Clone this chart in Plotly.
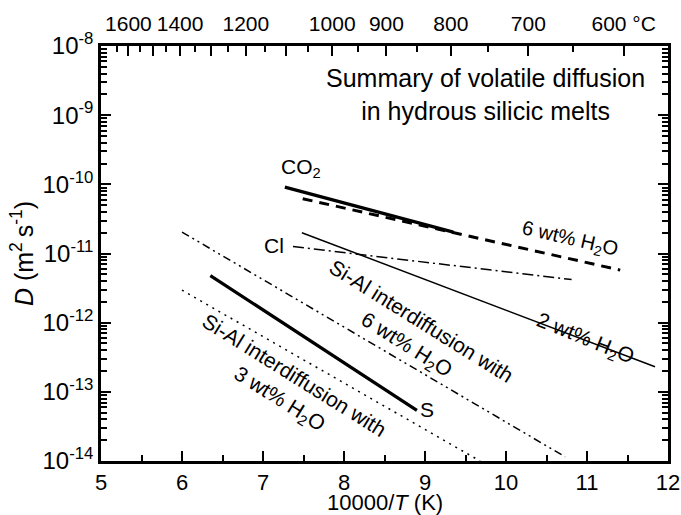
import plotly.graph_objects as go

# ---- data (x = 10000/T in K^-1, D in m^2/s) ----
co2_x = [7.27, 9.35]
co2_D = [9.1e-11, 2.04e-11]
co2_h2o6_x = [7.49, 11.41]
co2_h2o6_D = [6.2e-11, 5.75e-12]
cl_x = [7.37, 10.81]
cl_D = [1.26e-11, 4.2e-12]
h2o2_x = [7.48, 11.84]
h2o2_D = [2.0e-11, 2.3e-13]
sial6_x = [6.0, 10.73]
sial6_D = [2.04e-11, 1.15e-14]
s_x = [6.35, 8.90]
s_D = [4.8e-12, 5.4e-14]
sial3_x = [6.0, 9.68]
sial3_D = [2.95e-12, 1.0e-14]

x_ticks = [5, 6, 7, 8, 9, 10, 11, 12]
x_minor = [5.5, 6.5, 7.5, 8.5, 9.5, 10.5, 11.5]
y_exponents = [-14, -13, -12, -11, -10, -9, -8]
top_temps_C = [1600, 1500, 1400, 1300, 1200, 1100, 1000, 900, 800, 700, 600]
top_labels = ["1600", "", "1400", "", "1200", "", "1000", "900", "800", "700", "600 °C"]
top_minor_C = [1650, 1550, 1450, 1350, 1250, 1150, 1050, 950, 850, 750, 650, 550]

FONT = "Liberation Sans, Arial, Helvetica, sans-serif"

def inv(tc):
    return 10000.0 / (tc + 273.15)

fig = go.Figure()

def add_line(x, y, width, dash, xaxis="x"):
    fig.add_trace(go.Scatter(x=x, y=y, mode="lines", xaxis=xaxis,
                             line=dict(color="black", width=width, dash=dash),
                             showlegend=False, hoverinfo="skip"))

add_line(co2_h2o6_x, co2_h2o6_D, 3, "10px,7px")
add_line(co2_x, co2_D, 3.2, "solid", xaxis="x2")
add_line(cl_x, cl_D, 1.5, "11px,4px,2px,4px")
add_line(h2o2_x, h2o2_D, 1.5, "solid")
add_line(sial6_x, sial6_D, 1.5, "8px,4px,2px,4px,2px,4px")
add_line(s_x, s_D, 3.2, "solid")
add_line(sial3_x, sial3_D, 1.5, "2px,5px")

y_tickvals = [10.0 ** e for e in y_exponents]
y_ticktext = ["10<sup>%d</sup>" % e for e in y_exponents]
y_minor = [m * 10.0 ** e for e in y_exponents[:-1] for m in range(2, 10)]

fig.update_layout(
    width=681, height=515,
    margin=dict(l=101, r=13, t=46, b=54),
    paper_bgcolor="white", plot_bgcolor="white",
    font=dict(family=FONT, size=23, color="black"),
    xaxis=dict(range=[5, 12], tickmode="array", tickvals=x_ticks,
               ticks="inside", ticklen=10, tickwidth=2, tickcolor="black",
               showline=True, linewidth=2.5, linecolor="black", mirror=False,
               showgrid=False, zeroline=False, automargin=False, tickangle=0,
               minor=dict(tickmode="array", tickvals=x_minor, ticks="inside",
                          ticklen=6, tickwidth=2, tickcolor="black", showgrid=False),
               tickfont=dict(size=22)),
    xaxis2=dict(range=[5, 12], overlaying="x", side="top", anchor="y",
                tickmode="array", tickvals=[inv(t) for t in top_temps_C],
                ticktext=top_labels,
                ticks="inside", ticklen=10, tickwidth=2, tickcolor="black",
                showline=True, linewidth=2.5, linecolor="black",
                showgrid=False, zeroline=False, automargin=False, tickangle=0,
                ticklabelstandoff=4,
                minor=dict(tickmode="array", tickvals=[inv(t) for t in top_minor_C],
                           ticks="inside", ticklen=6, tickwidth=2, tickcolor="black",
                           showgrid=False),
                tickfont=dict(size=21)),
    yaxis=dict(type="log", range=[-14, -8], tickmode="array",
               tickvals=y_tickvals, ticktext=y_ticktext,
               ticks="inside", ticklen=10, tickwidth=2, tickcolor="black",
               showline=True, linewidth=2.5, linecolor="black", mirror="ticks",
               showgrid=False, zeroline=False, automargin=False,
               minor=dict(tickmode="array", tickvals=y_minor, ticks="inside",
                          ticklen=6, tickwidth=1.5, tickcolor="black", showgrid=False),
               tickfont=dict(size=24)),
)

# axis titles
fig.add_annotation(x=0.5, y=-0.099, xref="paper", yref="paper",
                   text="10000/<i>T</i> (K)", showarrow=False,
                   xanchor="center", yanchor="middle",
                   font=dict(family=FONT, size=22, color="black"))
fig.add_annotation(x=-0.14, y=0.5, xref="paper", yref="paper",
                   text="<i>D</i> (m<sup>2 </sup>s<sup>-1</sup>)", showarrow=False,
                   textangle=-90, xanchor="center", yanchor="middle",
                   font=dict(family=FONT, size=25, color="black"))

def note(x, logy, text, angle=0, size=21, xanchor="center", align="center"):
    fig.add_annotation(x=x, y=logy, xref="x", yref="y", text=text,
                       showarrow=False, textangle=angle, xanchor=xanchor,
                       yanchor="middle", align=align,
                       font=dict(family=FONT, size=size, color="black"))

note(9.75, -8.70, "Summary of volatile diffusion<br>in hydrous silicic melts", size=25)
note(7.47, -9.76, "CO<sub>2</sub>", size=21)
note(7.28, -10.89, "Cl", size=21, xanchor="right")
note(9.02, -13.26, "S", size=21)
note(10.79, -10.80, "6 wt% H<sub>2</sub>O", angle=13, size=20)
note(10.98, -12.23, "2 wt% H<sub>2</sub>O", angle=22, size=21)
note(8.85, -12.17, "Si-Al interdiffusion with<br>6 wt% H<sub>2</sub>O", angle=32, size=21)
note(7.28, -12.95, "Si-Al interdiffusion with<br>3 wt% H<sub>2</sub>O", angle=32, size=21)

fig.write_html("out.html", config={"displayModeBar": False},
               post_script="document.body.style.margin='0px';")
